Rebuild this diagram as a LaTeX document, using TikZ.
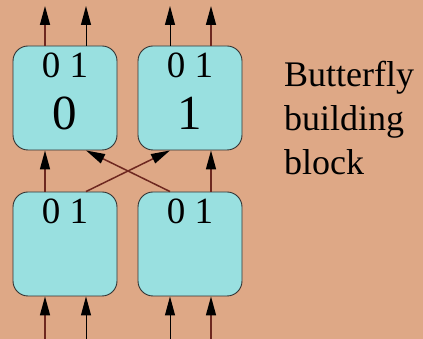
\documentclass[tikz,border=0pt]{standalone}
\usepackage{fontspec}
\setmainfont{Liberation Serif}
\usetikzlibrary{arrows.meta,positioning,calc}
\definecolor{tanbg}{HTML}{DEA886}
\definecolor{cyanb}{HTML}{99E0E0}
\definecolor{wirer}{HTML}{6E2820}
\definecolor{edgeg}{HTML}{333333}

\begin{document}
\begin{tikzpicture}[x=1pt, y=1pt,
  bfbox/.style={draw=edgeg, line width=0.9pt, fill=cyanb, rounded corners=15pt,
    minimum width=104pt, minimum height=104pt, inner sep=0pt},
  portlbl/.style={anchor=base, font=\fontsize{37}{40}\selectfont},
  bignum/.style={anchor=base, font=\fontsize{49}{52}\selectfont},
  wire/.style={line width=1.5pt, wirer, -{Triangle[length=19pt, width=10pt, black]}},
  bwire/.style={line width=1pt, black, -{Triangle[length=19pt, width=10pt, black]}}]
% page and background
\fill[tanbg] (0,0) rectangle (423,339);
\useasboundingbox (0,0) rectangle (423,339);

% ---- the four blocks ----
\node[bfbox] (lo0) at (65,95) {};
\node[bfbox] (lo1) at (190,95) {};
\node[bfbox] (up0) at (65,241) {};
\node[bfbox] (up1) at (190,241) {};

\node[portlbl] (lo0lbl) at ([yshift=-32pt]lo0.north) {0 1};
\node[portlbl] (lo1lbl) at ([yshift=-32pt]lo1.north) {0 1};
\node[portlbl] (up0lbl) at ([yshift=-32pt]up0.north) {0 1};
\node[portlbl] (up1lbl) at ([yshift=-32pt]up1.north) {0 1};
\node[bignum] (up0num) at ([yshift=-32pt]up0.center) {0};
\node[bignum] (up1num) at ([yshift=-32pt]up1.center) {1};

% ---- free ends of the inputs and outputs ----
\coordinate (in0)  at (45,0);
\coordinate (in1)  at (86,0);
\coordinate (in2)  at (170,0);
\coordinate (in3)  at (211,0);
\coordinate (out0) at (45,333);
\coordinate (out1) at (86,333);
\coordinate (out2) at (170,333);
\coordinate (out3) at (211,333);

% inputs
\draw[wire]  (in0) -- ([xshift=-20pt]lo0.south);
\draw[bwire] (in1) -- ([xshift=21pt]lo0.south);
\draw[bwire] (in2) -- ([xshift=-20pt]lo1.south);
\draw[wire]  (in3) -- ([xshift=21pt]lo1.south);

% straight and crossed links
\draw[wire] ([xshift=-20pt]lo0.north) -- ([xshift=-20pt]up0.south);
\draw[wire] ([xshift=21pt]lo1.north) -- ([xshift=21pt]up1.south);
\draw[wire] ([xshift=21pt]lo0.north) -- ([xshift=-20pt]up1.south);
\draw[wire] ([xshift=-20pt]lo1.north) -- ([xshift=21pt]up0.south);

% outputs
\draw[wire]  ([xshift=-20pt]up0.north) -- (out0);
\draw[bwire] ([xshift=21pt]up0.north) -- (out1);
\draw[bwire] ([xshift=-20pt]up1.north) -- (out2);
\draw[wire]  ([xshift=21pt]up1.north) -- (out3);

% caption at the right
\node[anchor=base west, align=left, inner sep=0pt,
  font=\fontsize{36}{44}\selectfont] (cap) at (284,164)
  {Butterfly\\building\\block};
\end{tikzpicture}
\end{document}
